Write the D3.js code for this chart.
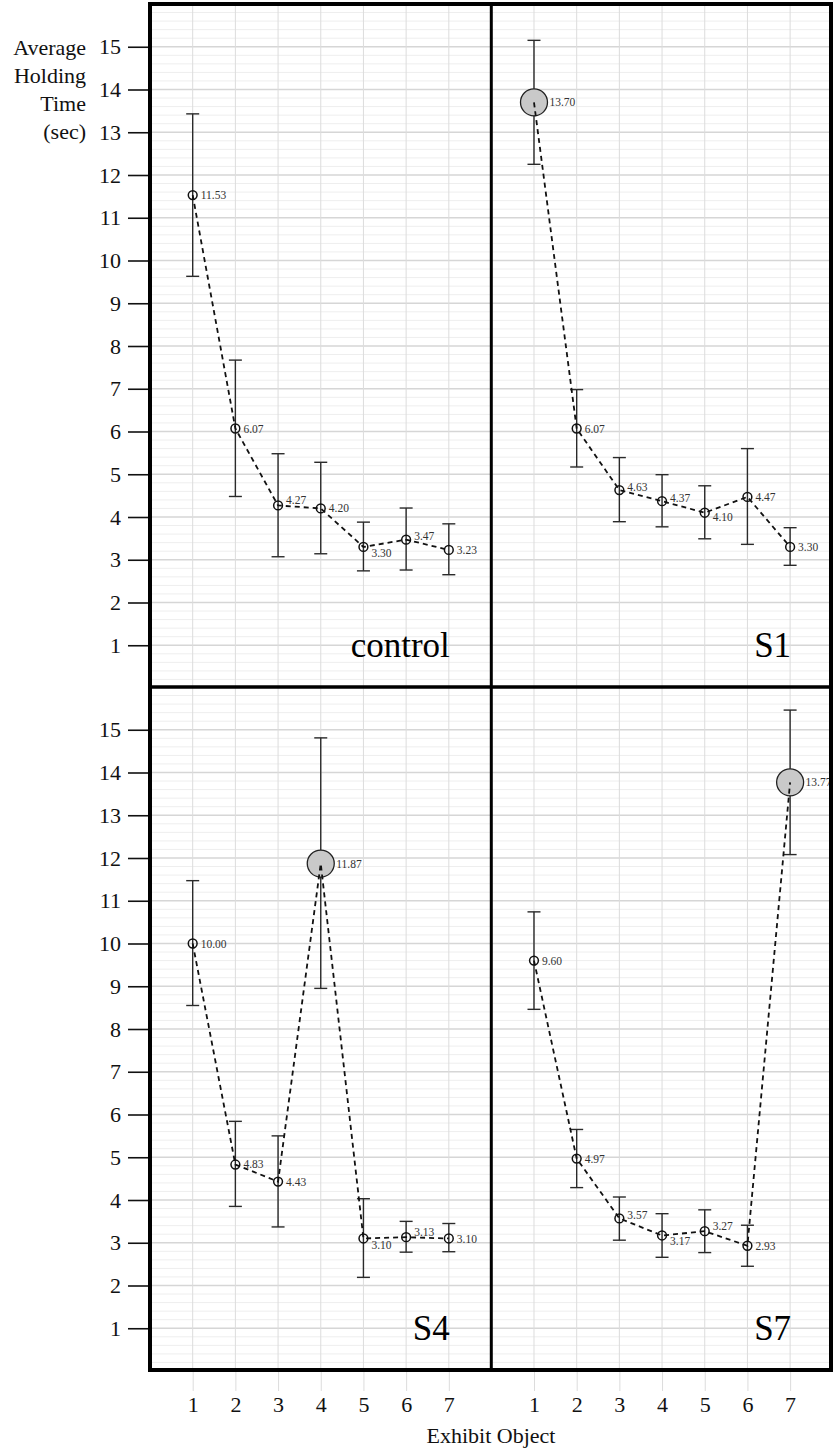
<!DOCTYPE html>
<html>
<head>
<meta charset="utf-8">
<script src="https://cdn.jsdelivr.net/npm/d3@7"></script>
<style>
  body { margin: 0; background: #fff; }
  svg { display: block; font-family: "Liberation Serif", "Times New Roman", serif; }
</style>
</head>
<body>
<div id="chart"></div>
<script>
// 1: DATA
const exhibits = [1, 2, 3, 4, 5, 6, 7];
const conditions = ["control", "S1", "S4", "S7"];
const yTicks = d3.range(1, 16);

const controlMean = [11.53, 6.07, 4.27, 4.20, 3.30, 3.47, 3.23];
const controlHigh = [13.43, 7.67, 5.48, 5.28, 3.88, 4.21, 3.84];
const controlLow  = [9.63, 4.48, 3.07, 3.14, 2.74, 2.76, 2.65];

const s1Mean = [13.70, 6.07, 4.63, 4.37, 4.10, 4.47, 3.30];
const s1High = [15.15, 6.98, 5.39, 4.99, 4.73, 5.60, 3.75];
const s1Low  = [12.25, 5.17, 3.89, 3.77, 3.49, 3.36, 2.87];

const s4Mean = [10.00, 4.83, 4.43, 11.87, 3.10, 3.13, 3.10];
const s4High = [11.47, 5.84, 5.50, 14.81, 4.03, 3.50, 3.45];
const s4Low  = [8.55, 3.85, 3.37, 8.95, 2.19, 2.78, 2.79];

const s7Mean = [9.60, 4.97, 3.57, 3.17, 3.27, 2.93, 13.77];
const s7High = [10.74, 5.65, 4.07, 3.68, 3.77, 3.41, 15.46];
const s7Low  = [8.46, 4.29, 3.06, 2.66, 2.77, 2.45, 12.08];

// exhibit that was highlighted in each condition (none for control)
const highlighted = [null, 1, 4, 7];

const means = [controlMean, s1Mean, s4Mean, s7Mean];
const highs = [controlHigh, s1High, s4High, s7High];
const lows  = [controlLow, s1Low, s4Low, s7Low];

// 2: LAYOUT
const W = 833, H = 1451;
const colX = [150, 491.3];
const rowY = [4, 687];
const panelW = 341.5, panelH = 684;

// small vertical nudges of the value labels (px), like the repelled labels
const labelShiftY = [
    [0, 0, -5, 0, 6, -4, 0],
    [0, 0, -3, -3, 4, 0, 0],
    [0, -1, 0, 0, 6, -5, 0],
    [0, 0, -3, 5, -5, 0, 0]
];

const svg = d3.select("#chart").append("svg")
    .attr("width", W)
    .attr("height", H);

svg.append("rect").attr("width", W).attr("height", H).attr("fill", "#fff");

conditions.forEach((cond, p) => {
    const col = p % 2, row = Math.floor(p / 2);
    const x = d3.scaleLinear().domain([0, 8]).range([colX[col], colX[col] + panelW]);
    const y = d3.scaleLinear().domain([0, 16]).range([rowY[row] + panelH, rowY[row]]);

    const g = svg.append("g");

    // minor grid
    const minor = d3.range(1, 80).map(i => i / 5).filter(v => Math.abs(v - Math.round(v)) > 1e-6);
    g.selectAll(".minor").data(minor).enter().append("line")
        .attr("x1", x(0)).attr("x2", x(8))
        .attr("y1", d => y(d)).attr("y2", d => y(d))
        .attr("stroke", "#eeeeee").attr("stroke-width", 1);

    // major grid
    g.selectAll(".major").data(yTicks).enter().append("line")
        .attr("x1", x(0)).attr("x2", x(8))
        .attr("y1", d => y(d)).attr("y2", d => y(d))
        .attr("stroke", "#d6d6d6").attr("stroke-width", 1.3);

    g.selectAll(".vgrid").data(exhibits).enter().append("line")
        .attr("x1", d => x(d)).attr("x2", d => x(d))
        .attr("y1", y(0)).attr("y2", y(16))
        .attr("stroke", "#dcdcdc").attr("stroke-width", 1);

    // y axis on the left column
    if (col === 0) {
        const ax = svg.append("g")
            .attr("transform", `translate(${x(0) - 2},0)`)
            .call(d3.axisLeft(y).tickValues(yTicks).tickSize(20).tickPadding(7));
        ax.select(".domain").remove();
        ax.selectAll(".tick line").attr("stroke", "#111").attr("stroke-width", 1.6);
        ax.selectAll(".tick text")
            .attr("font-family", "Liberation Serif")
            .attr("font-size", 22)
            .attr("fill", "#111");
    }

    // x axis on the bottom row
    if (row === 1) {
        const ax = svg.append("g")
            .attr("transform", `translate(0,${y(0)})`)
            .call(d3.axisBottom(x).tickValues(exhibits).tickSize(20).tickPadding(5));
        ax.select(".domain").remove();
        ax.selectAll(".tick line").attr("stroke", "#dcdcdc").attr("stroke-width", 1);
        ax.selectAll(".tick text")
            .attr("font-family", "Liberation Serif")
            .attr("font-size", 22)
            .attr("fill", "#111");
    }

    const pts = exhibits.map((e, i) => ({
        e, m: means[p][i], hi: highs[p][i], lo: lows[p][i],
        big: highlighted[p] === e, dy: labelShiftY[p][i]
    }));

    // error bars
    const bars = g.selectAll(".bar").data(pts).enter().append("g")
        .attr("stroke", "#2a2a2a").attr("stroke-width", 1.4);
    bars.append("line")
        .attr("x1", d => x(d.e)).attr("x2", d => x(d.e))
        .attr("y1", d => y(d.hi)).attr("y2", d => y(d.lo));
    bars.append("line")
        .attr("x1", d => x(d.e) - 6.5).attr("x2", d => x(d.e) + 6.5)
        .attr("y1", d => y(d.hi)).attr("y2", d => y(d.hi));
    bars.append("line")
        .attr("x1", d => x(d.e) - 6.5).attr("x2", d => x(d.e) + 6.5)
        .attr("y1", d => y(d.lo)).attr("y2", d => y(d.lo));

    // points
    g.selectAll(".pt").data(pts).enter().append("circle")
        .attr("cx", d => x(d.e)).attr("cy", d => y(d.m))
        .attr("r", d => d.big ? 13.5 : 4.4)
        .attr("fill", d => d.big ? "#c9c9c9" : "none")
        .attr("stroke", d => d.big ? "#222" : "#111")
        .attr("stroke-width", d => d.big ? 1.3 : 1.5);

    // dashed connecting line
    const line = d3.line().x(d => x(d.e)).y(d => y(d.m));
    g.append("path")
        .datum(pts)
        .attr("d", line)
        .attr("fill", "none")
        .attr("stroke", "#111")
        .attr("stroke-width", 1.8)
        .attr("stroke-dasharray", "5,4");

    // value labels
    g.selectAll(".lbl").data(pts).enter().append("text")
        .attr("x", d => x(d.e) + (d.big ? 15.5 : 8))
        .attr("y", d => y(d.m) + d.dy)
        .attr("dy", "0.35em")
        .attr("font-size", 11.5)
        .attr("fill", "#333")
        .text(d => d.m.toFixed(2));

    // panel name
    g.append("text")
        .attr("x", x(7) + 1)
        .attr("y", y(0.72))
        .attr("text-anchor", "end")
        .attr("font-size", 35)
        .attr("fill", "#000")
        .text(cond);
});

// panel frame and dividers
svg.append("rect")
    .attr("x", 150).attr("y", 4)
    .attr("width", 681).attr("height", 1366)
    .attr("fill", "none").attr("stroke", "#000").attr("stroke-width", 4);
svg.append("line")
    .attr("x1", 491.3).attr("x2", 491.3).attr("y1", 4).attr("y2", 1370)
    .attr("stroke", "#000").attr("stroke-width", 3);
svg.append("line")
    .attr("x1", 150).attr("x2", 831).attr("y1", 687).attr("y2", 687)
    .attr("stroke", "#000").attr("stroke-width", 3.5);

// axis titles
svg.append("text")
    .attr("x", 491)
    .attr("y", 1443)
    .attr("text-anchor", "middle")
    .attr("font-size", 22)
    .attr("fill", "#111")
    .text("Exhibit Object");

const yLabel = svg.append("text")
    .attr("x", 86)
    .attr("y", 55)
    .attr("text-anchor", "end")
    .attr("font-size", 22)
    .attr("fill", "#111");
["Average", "Holding", "Time", "(sec)"].forEach((t, i) => {
    yLabel.append("tspan").attr("x", 86).attr("dy", i === 0 ? 0 : 28).text(t);
});
</script>
</body>
</html>
